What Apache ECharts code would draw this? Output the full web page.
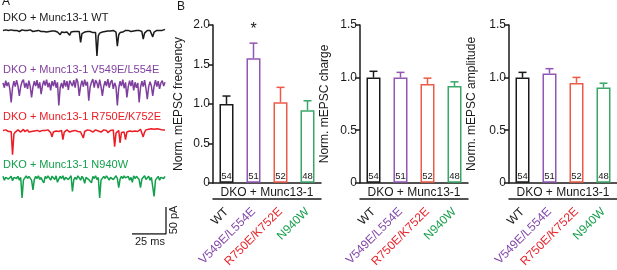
<!DOCTYPE html>
<html><head><meta charset="utf-8">
<script src="https://cdn.jsdelivr.net/npm/echarts@6/dist/echarts.min.js"></script>
<style>html,body{margin:0;padding:0;background:#fff}#c{width:617px;height:270px}</style>
</head><body><div id="c"></div>
<script>
// ---------- data ----------
const categories = ['WT', 'V549E/L554E', 'R750E/K752E', 'N940W'];
const nCells = [54, 51, 52, 48];
const freqMean = [1.00, 1.58, 1.02, 0.92];
const freqSem = [0.10, 0.19, 0.19, 0.12];
const freqSig = ['', '*', '', ''];
const chargeMean = [1.00, 1.00, 0.94, 0.92];
const chargeSem = [0.06, 0.05, 0.055, 0.04];
const ampMean = [1.00, 1.04, 0.95, 0.905];
const ampSem = [0.05, 0.045, 0.052, 0.042];
const noSig = ['', '', '', ''];
const freqMax = 2.0, chargeMax = 1.5, ampMax = 1.5, tickStep = 0.5;

const traceLabels = ['DKO + Munc13-1 WT', 'DKO + Munc13-1 V549E/L554E', 'DKO + Munc13-1 R750E/K752E', 'DKO + Munc13-1 N940W'];
// current (pA), one sample per ms
const traceWT = [1,-1,2,0,1,-1,2,0,1,-1, 1,0,-1,1,2,0,1,-1,1,0, 2,0,-1,1,0,-2,1,0,-1,1, -1,0,-2,0,-1,-3,0,-2,0,-1,
  -2,0,-7,-2,-1,-3,-1,-2,-3,-8, -2,-3,-1,-3,-1,-2,-1,-21,-5,-3, -2,-3,-1,-3,-1,-2,-3,-1,-3,-46, -9,-4,-3,-2,-3,-1,-2,0,-2,0,
  -1,1,-1,-2,-28,-7,-3,-1,-2,0, 1,-1,1,0,-1,1,0,-1,1,0, 1,0,-1,-15,-4,-1,1,0,1,-1, -11,-2,0,1,2,1,3,1,2,3];
const traceV549E = [3,-6,7,-3,4,-8,-33,-6,6,-4, 8,-3,-21,-4,5,9,-6,3,-8,7, -4,-24,-5,6,-3,8,-7,4,-18,-2, 7,-2,9,-5,3,-11,6,-3,8,-6,
  4,-39,-6,3,-7,8,-4,6,-10,7, 10,-3,8,-6,11,4,-21,-3,7,-4, 9,-2,5,-30,-5,4,10,-6,8,3, -7,9,-4,-21,-3,6,-3,10,-6,4,
  8,-8,3,-4,-39,-7,6,-3,9,-7, 4,-24,-4,7,-3,8,-11,4,-6,3, -33,-6,6,-4,8,-7,-27,-4,5,-3, -21,-3,8,-4,6,-8,3,7,-3,4];
const traceR750E = [1,-2,2,0,-1,2,-1,-44,-6,-2, -1,2,0,-2,1,3,-1,0,2,-2, 1,-1,2,0,-3,1,2,-1,0,1, -2,1,0,2,-1,-3,-11,-2,1,0,
  2,-1,0,1,-16,-2,-1,2,0,-2, 1,0,-2,1,2,-1,0,-2,1,-13, -1,0,2,-1,1,0,-2,1,2,-1, 0,1,-2,0,2,-1,1,-3,0,1,
  -1,2,-29,-4,-2,1,-22,-3,0,-2, -16,-2,1,0,2,-1,1,0,2,-1, 1,3,0,-11,-2,2,1,3,2,4, 2,3,1,4,2,3,1,2,4,2];
const traceN940W = [3,-4,1,4,-2,0,3,-5,1,4, -1,3,-4,1,-37,-4,-2,4,-1,3, 0,-4,-22,-3,3,-1,4,-3,1,-5, -9,3,-1,4,0,-4,3,1,-3,4,
  -8,-2,3,-1,4,-4,1,3,-3,0, 4,-25,-3,1,-3,4,0,-4,3,-1, -10,1,4,-3,0,-9,3,-1,4,-3, 1,-37,-4,-2,3,-1,4,0,-4,1,
  3,-3,0,4,-1,-18,-2,3,-1,4, 0,-3,3,-4,1,-8,4,-1,3,0, -3,-18,-2,1,4,-3,0,3,-4,1, 4,-34,-4,-1,3,-4,1,4,-1,3];
const scaleBarMs = 25, scaleBarPa = 50, traceEndMs = 119;

// ---------- styles ----------
const FONT = 'Liberation Sans, Arial, sans-serif';
const textColors = ['#1a1a1a', '#8246a8', '#e8232b', '#1aa04f'];
const barColors = ['#1a1a1a', '#9256b5', '#ee5a48', '#38a868'];
const traceColors = ['#1a1a1a', '#7f3f9f', '#ec1c24', '#13a04c'];
const traces = [traceWT, traceV549E, traceR750E, traceN940W];

const grid = [], xAxis = [], yAxis = [], series = [], graphic = [];

// ---------- panel A ----------
const traceBase = [31, 84.5, 131, 178];
const labelY = [19, 71, 117.5, 166];
traces.forEach((tr, i) => {
  grid.push({ left: 3, width: 162, top: traceBase[i] - 7.6, height: 40 });
  xAxis.push({ type: 'value', gridIndex: i, min: 0, max: traceEndMs, show: false });
  yAxis.push({ type: 'value', gridIndex: i, min: -60, max: 14, show: false });
  series.push({ type: 'line', xAxisIndex: i, yAxisIndex: i, showSymbol: false, silent: true,
    data: tr.map((v, t) => [t, v]), lineStyle: { color: traceColors[i], width: 1.5 } });
  graphic.push({ type: 'text', left: 3, top: labelY[i] - 6.5,
    style: { text: traceLabels[i], fill: traceColors[i], font: '11px ' + FONT } });
});
// scale bar grid
grid.push({ left: 4, width: 162, top: 194, height: 40 });
xAxis.push({ type: 'value', gridIndex: 4, min: 0, max: traceEndMs, show: false });
yAxis.push({ type: 'value', gridIndex: 4, min: 0, max: 74, show: false });
series.push({ type: 'line', xAxisIndex: 4, yAxisIndex: 4, showSymbol: false, silent: true,
  data: [[traceEndMs, scaleBarPa], [traceEndMs, 0], [traceEndMs - scaleBarMs, 0]],
  lineStyle: { color: '#1a1a1a', width: 1.3 } });
graphic.push({ type: 'text', left: 135, top: 236, style: { text: scaleBarMs + ' ms', fill: '#1a1a1a', font: '11px ' + FONT } });
graphic.push({ type: 'text', x: 168, y: 220, rotation: Math.PI / 2,
  style: { text: scaleBarPa + ' pA', fill: '#1a1a1a', font: '11px ' + FONT, align: 'center', verticalAlign: 'top' } });
graphic.push({ type: 'text', left: 2, top: -4, style: { text: 'A', fill: '#1a1a1a', font: '12px ' + FONT } });
graphic.push({ type: 'text', left: 177, top: 1, style: { text: 'B', fill: '#1a1a1a', font: '12px ' + FONT } });

// ---------- panel B ----------
const panels = [
  { left: 213, name: 'Norm. mEPSC frecuency', mean: freqMean, sem: freqSem, sig: freqSig, max: freqMax, gap: 28 },
  { left: 360, name: 'Norm. mEPSC charge', mean: chargeMean, sem: chargeSem, sig: noSig, max: chargeMax, gap: 29 },
  { left: 509, name: 'Norm. mEPSC amplitude', mean: ampMean, sem: ampSem, sig: noSig, max: ampMax, gap: 31 }
];
panels.forEach((p, k) => {
  const gi = 5 + k;
  grid.push({ left: p.left, width: 108, top: 25, height: 162 });
  const xi = xAxis.length;
  xAxis.push({ type: 'category', gridIndex: gi, data: categories, boundaryGap: true,
    axisLine: { lineStyle: { color: '#1a1a1a', width: 1.5 } }, axisTick: { show: false }, axisLabel: { show: false },
    name: 'DKO + Munc13-1', nameLocation: 'middle', nameGap: 4,
    nameTextStyle: { color: '#1a1a1a', fontSize: 12, fontFamily: FONT, verticalAlign: 'top' } });
  xAxis.push({ type: 'category', gridIndex: gi, data: categories, position: 'bottom', offset: 16,
    axisLine: { lineStyle: { color: '#1a1a1a', width: 1.5 } }, axisTick: { show: false },
    axisLabel: { rotate: 45, margin: 11, fontSize: 12, fontFamily: FONT, interval: 0,
      color: (v) => textColors[categories.indexOf(v)] } });
  const yi = yAxis.length;
  yAxis.push({ type: 'value', gridIndex: gi, min: 0, max: p.max, interval: tickStep,
    axisLine: { show: true, lineStyle: { color: '#1a1a1a', width: 1.5 } },
    axisTick: { show: true, length: 5, lineStyle: { color: '#1a1a1a', width: 1.5 } },
    splitLine: { show: false },
    axisLabel: { color: '#1a1a1a', fontSize: 12, fontFamily: FONT, margin: 3,
      formatter: v => v === 0 ? '0' : v.toFixed(1) },
    name: p.name, nameLocation: 'middle', nameGap: p.gap,
    nameTextStyle: { color: '#1a1a1a', fontSize: 12, fontFamily: FONT } });
  series.push({ type: 'bar', xAxisIndex: xi, yAxisIndex: yi, barWidth: 14, silent: true,
    data: p.mean.map((m, i) => ({ value: m, itemStyle: { color: '#fff', borderColor: barColors[i], borderWidth: 1.5 } })),
    label: { show: true, position: 'insideBottom', distance: 1, fontSize: 9.5, fontFamily: FONT, color: '#1a1a1a',
      formatter: q => String(nCells[q.dataIndex]) }, z: 2 });
  series.push({ type: 'custom', xAxisIndex: xi, yAxisIndex: yi, silent: true, z: 3,
    data: p.mean.map((m, i) => [i, m, p.sem[i]]),
    renderItem: (params, api) => {
      const i = api.value(0), m = api.value(1), e = api.value(2);
      const a = api.coord([i, m]), b = api.coord([i, m + e]);
      const col = barColors[i];
      const ch = [
        { type: 'line', shape: { x1: a[0], y1: a[1], x2: b[0], y2: b[1] }, style: { stroke: col, lineWidth: 1.5 } },
        { type: 'line', shape: { x1: b[0] - 4, y1: b[1], x2: b[0] + 4, y2: b[1] }, style: { stroke: col, lineWidth: 1.5 } }
      ];
      if (p.sig[i]) ch.push({ type: 'text', style: { text: p.sig[i], x: b[0], y: b[1] - 6, align: 'center', verticalAlign: 'bottom', fill: '#1a1a1a', font: '16px ' + FONT } });
      return { type: 'group', children: ch };
    } });
});

const chart = echarts.init(document.getElementById('c'), null, { renderer: 'canvas' });
chart.setOption({ animation: false, textStyle: { fontFamily: FONT }, grid, xAxis, yAxis, series, graphic });
</script></body></html>
